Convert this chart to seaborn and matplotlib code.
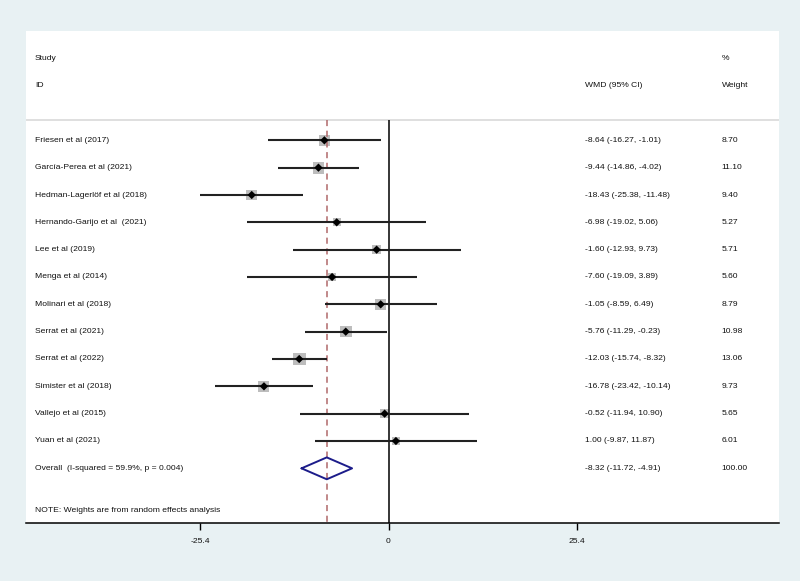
import pandas as pd
from matplotlib import pyplot as plt
import seaborn as sns
import numpy as np

studies = ["Friesen et al (2017)", "García-Perea et al (2021)", "Hedman-Lagerlöf et al (2018)",
           "Hernando-Garijo et al  (2021)", "Lee et al (2019)", "Menga et al (2014)",
           "Molinari et al (2018)", "Serrat et al (2021)", "Serrat et al (2022)",
           "Simister et al (2018)", "Vallejo et al (2015)", "Yuan et al (2021)"]
wmd = [-8.64, -9.44, -18.43, -6.98, -1.60, -7.60, -1.05, -5.76, -12.03, -16.78, -0.52, 1.00]
lower = [-16.27, -14.86, -25.38, -19.02, -12.93, -19.09, -8.59, -11.29, -15.74, -23.42, -11.94, -9.87]
upper = [-1.01, -4.02, -11.48, 5.06, 9.73, 3.89, 6.49, -0.23, -8.32, -10.14, 10.90, 11.87]
weight = [8.70, 11.10, 9.40, 5.27, 5.71, 5.60, 8.79, 10.98, 13.06, 9.73, 5.65, 6.01]

overall_label = "Overall  (I-squared = 59.9%, p = 0.004)"
overall_est = -8.32
overall_lo = -11.72
overall_hi = -4.91
overall_weight = 100.00

ticks = [-25.4, 0, 25.4]
note = "NOTE: Weights are from random effects analysis"

df = pd.DataFrame({"study": studies, "wmd": wmd, "lower": lower, "upper": upper, "weight": weight})
df["row"] = np.arange(len(df))
df["ci_text"] = [f"{e:.2f} ({l:.2f}, {u:.2f})" for e, l, u in zip(wmd, lower, upper)]

sns.set_style("white")
plt.rcParams["font.family"] = ["Liberation Sans", "DejaVu Sans"]
fs = 6.1
tc = "#111111"

fig = plt.figure(figsize=(8, 5.81), dpi=100, facecolor="#e8f1f3")
ax = fig.add_axes([26/800, 1 - 523/581, 753/800, 492/581])
ax.set_facecolor("white")

x0 = 388.5
ppu = 7.421
ax.set_xlim((26 - x0)/ppu, (779 - x0)/ppu)
ax.set_ylim(14, -4)

# header separator
ax.axhline(-0.76, color="#d9d9d9", lw=1.2)
ax.vlines(0, -0.76, 14, color="black", lw=1.1)
ax.vlines(overall_est, -0.76, 14, color="#b0686a", lw=1.1, linestyles=(0, (4, 3)))

# confidence intervals
ax.hlines(df["row"], df["lower"], df["upper"], color="#222222", lw=1.5, zorder=2)
sns.scatterplot(data=df, x="wmd", y="row", size="weight", sizes=(6.4*min(weight), 6.4*max(weight)),
                size_norm=(min(weight), max(weight)), marker="s", color="#bdbdbd",
                edgecolor="none", legend=False, ax=ax, zorder=1)
sns.scatterplot(data=df, x="wmd", y="row", marker="D", s=18, color="black",
                edgecolor="none", legend=False, ax=ax, zorder=3)

# overall diamond
orow = len(df)
ax.plot([overall_lo, overall_est, overall_hi, overall_est, overall_lo],
        [orow, orow - 0.4, orow, orow + 0.4, orow], color="#1c1c8a", lw=1.4, zorder=3)

tr = ax.get_yaxis_transform()
kw = dict(transform=tr, fontsize=fs, va="center", color=tc)
ax.text(0.012, -3, "Study", **kw)
ax.text(0.012, -2, "ID", **kw)
ax.text(0.742, -2, "WMD (95% CI)", **kw)
ax.text(0.924, -3, "%", **kw)
ax.text(0.924, -2, "Weight", **kw)
for _, r in df.iterrows():
    ax.text(0.012, r["row"], r["study"], **kw)
    ax.text(0.742, r["row"], r["ci_text"], **kw)
    ax.text(0.924, r["row"], f"{r['weight']:.2f}", **kw)
ax.text(0.012, orow, overall_label, **kw)
ax.text(0.742, orow, f"{overall_est:.2f} ({overall_lo:.2f}, {overall_hi:.2f})", **kw)
ax.text(0.924, orow, f"{overall_weight:.2f}", **kw)
ax.text(0.012, 13.55, note, **kw)

for s in ["top", "left", "right"]:
    ax.spines[s].set_visible(False)
ax.spines["bottom"].set_color("black")
ax.spines["bottom"].set_linewidth(1.1)
ax.set_yticks([])
ax.set_xticks(ticks)
ax.set_xticklabels([str(t) for t in ticks])
ax.tick_params(axis="x", direction="out", length=5, width=1, color="black", labelsize=fs,
               labelcolor=tc, pad=6, bottom=True)
ax.set_xlabel("")
ax.set_ylabel("")

fig.savefig("out.png", dpi=100, facecolor=fig.get_facecolor())
